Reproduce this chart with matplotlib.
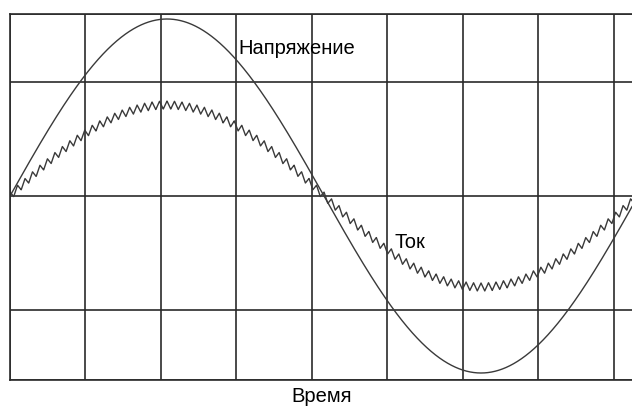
import numpy as np
import matplotlib.pyplot as plt

# time axis in grid divisions, amplitudes in screen-like units
grid_x = [0, 1, 2, 3, 4, 5, 6, 7, 8]
grid_y = [-184, -114, 0, 114, 182]
x_end = 8.24

period = 8.32          # one full mains cycle, divisions
volt_amp = 177         # voltage amplitude
curr_amp = 91          # current amplitude
ripple_amp = 4.0       # switching ripple on the current
ripples_per_period = 84

labels = {"volt": "Напряжение", "curr": "Ток", "time": "Время"}

t = np.linspace(0, x_end, 6000)
phase = 2 * np.pi * t / period
voltage = volt_amp * np.sin(phase)

# triangle ripple riding on the sine current
saw = (t / period * ripples_per_period) % 1.0
tri = 4 * np.abs(saw - 0.5) - 1
current = curr_amp * np.sin(phase) + ripple_amp * tri

fig = plt.figure(figsize=(6.32, 4.07), dpi=100)
ax = fig.add_axes([10 / 632, 27 / 407, 622 / 632, 366 / 407])

ax.plot(t, voltage, color="#3a3a3a", lw=1.0)
ax.plot(t, current, color="#3a3a3a", lw=1.0)

ax.set_xlim(0, x_end)
ax.set_ylim(grid_y[0], grid_y[-1])
ax.set_xticks(grid_x)
ax.set_yticks(grid_y)
ax.grid(True, color="#2a2a2a", lw=1.2)
ax.tick_params(length=0, labelbottom=False, labelleft=False)
for side in ["left", "top", "bottom"]:
    ax.spines[side].set_color("#2a2a2a")
    ax.spines[side].set_linewidth(1.2)
ax.spines["right"].set_visible(False)

ax.text(3.02, 147, labels["volt"], fontsize=14.5, family="Liberation Sans",
        va="center", ha="left")
ax.text(5.1, -46, labels["curr"], fontsize=14.5, family="Liberation Sans",
        va="center", ha="left")
fig.text(322 / 632, 11 / 407, labels["time"], fontsize=14.5,
         family="Liberation Sans", va="center", ha="center")

fig.savefig("out.png", dpi=100)
